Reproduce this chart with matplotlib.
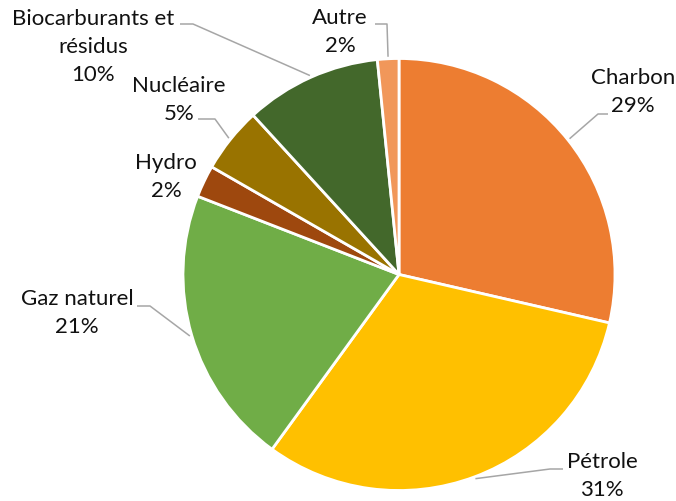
import numpy as np
import matplotlib
matplotlib.use("Agg")
import matplotlib.pyplot as plt

# Données (parts en %)
categories = ["Charbon", "Pétrole", "Gaz naturel", "Hydro", "Nucléaire",
              "Biocarburants et\nrésidus", "Autre"]
values = [28.6, 31.4, 20.9, 2.4, 4.9, 10.2, 1.6]
colors = ["#ED7D31", "#FFC000", "#70AD47", "#9E480E", "#997300", "#43682B", "#F1975A"]

# Mise en page (pixels, origine en haut à gauche)
W, H = 676, 501
CENTER = (399, 274.5)
RADIUS = 216
# centre du texte, coude et fin de la ligne de rappel (None = pas de ligne)
LAYOUT = {
    "Charbon":     dict(text=(633, 92), elbow=(598, 114), end=(608, 114)),
    "Pétrole":     dict(text=(602, 476), elbow=(550, 469), end=(563, 469)),
    "Gaz naturel": dict(text=(77, 313), elbow=(150, 306), end=(137, 306)),
    "Hydro":       dict(text=(166, 177), elbow=None, end=None),
    "Nucléaire":   dict(text=(179, 100), elbow=(215, 119), end=(198, 119)),
    "Biocarburants et\nrésidus": dict(text=(93, 47), elbow=(193, 24), end=(180, 24)),
    "Autre":       dict(text=(340, 32), elbow=(387, 24), end=(375, 24)),
}

plt.rcParams["font.family"] = ["Lato", "DejaVu Sans"]


def px(x, y):
    return x, H - y


fig = plt.figure(figsize=(W / 100, H / 100), dpi=100)
ax = fig.add_axes([0, 0, 1, 1])

cx, cy = px(*CENTER)
ax.pie(values, colors=colors, startangle=90, counterclock=False,
       center=(cx, cy), radius=RADIUS,
       wedgeprops=dict(edgecolor="white", linewidth=2))

total = sum(values)
cum = 0.0
for name, v in zip(categories, values):
    mid = (cum + v / 2) / total * 360.0
    cum += v
    lay = LAYOUT[name]
    label = f"{name}\n{v:.0f}%"
    ax.text(*px(*lay["text"]), label, ha="center", va="center",
            fontsize=16, color="#111111", linespacing=1.5)
    if lay["elbow"] is None:
        continue
    th = np.deg2rad(mid)
    sx = cx + (RADIUS + 2) * np.sin(th)
    sy = cy + (RADIUS + 2) * np.cos(th)
    ex, ey = px(*lay["elbow"])
    fx, fy = px(*lay["end"])
    ax.plot([sx, ex, fx], [sy, ey, fy], color="#A6A6A6", linewidth=1.1,
            solid_capstyle="butt")

ax.set_xlim(0, W)
ax.set_ylim(0, H)
ax.set_aspect("auto")
ax.axis("off")

fig.savefig("out.png", dpi=100)
